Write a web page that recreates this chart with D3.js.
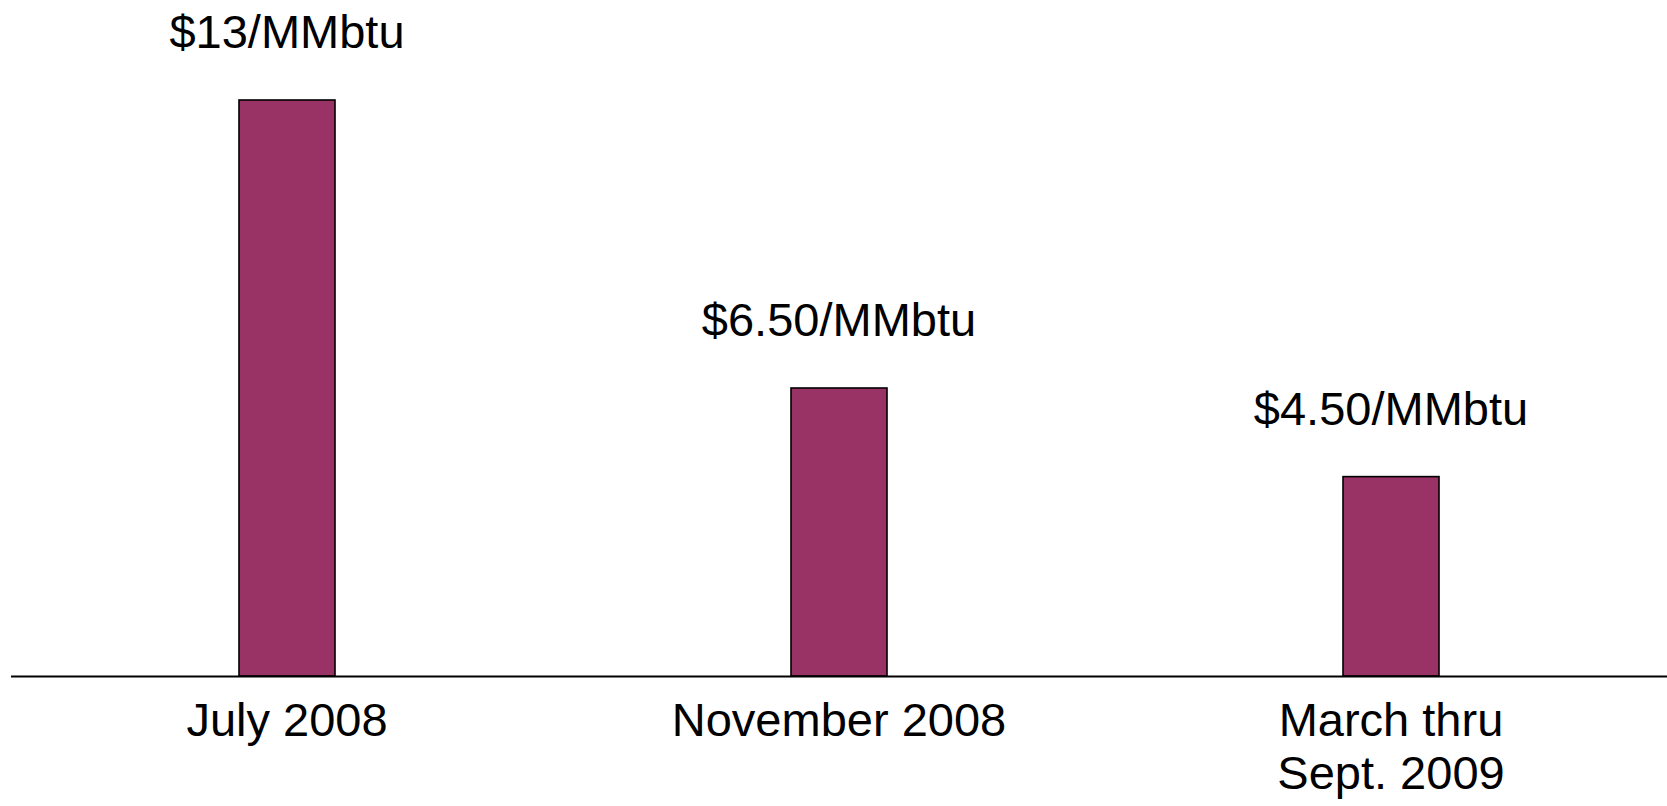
<!DOCTYPE html>
<html>
<head>
<meta charset="utf-8">
<script src="https://cdn.jsdelivr.net/npm/d3@7"></script>
<style>
  html, body { margin: 0; padding: 0; background: #ffffff; }
  svg { display: block; }
  text { font-family: "Liberation Sans", Arial, sans-serif; fill: #000; }
</style>
</head>
<body>
<svg id="chart" width="1667" height="806"></svg>
<script>
// Natural gas price, $/MMbtu
const categories = ["July 2008", "November 2008", "March thru\nSept. 2009"];
const prices = [13, 6.5, 4.5];
const priceLabels = ["$13/MMbtu", "$6.50/MMbtu", "$4.50/MMbtu"];

const width = 1667, height = 806;
const margin = { top: 100, right: 0, bottom: 130, left: 11 };
const baseY = height - margin.bottom;   // axis line
const barWidth = 96;
const fontSize = 47;

const svg = d3.select("#chart");

const x = d3.scalePoint()
  .domain(categories)
  .range([margin.left, width - margin.right])
  .padding(0.5);

const y = d3.scaleLinear()
  .domain([0, d3.max(prices)])
  .range([baseY, margin.top]);

const data = categories.map((c, i) => ({ cat: c, value: prices[i], label: priceLabels[i] }));

// bars
svg.selectAll("rect.bar")
  .data(data)
  .join("rect")
  .attr("class", "bar")
  .attr("x", d => x(d.cat) - barWidth / 2)
  .attr("y", d => y(d.value))
  .attr("width", barWidth)
  .attr("height", d => baseY - y(d.value))
  .attr("fill", "#993366")
  .attr("stroke", "#000")
  .attr("stroke-width", 1.6);

// baseline
svg.append("line")
  .attr("x1", margin.left)
  .attr("x2", width - margin.right)
  .attr("y1", baseY + 0.5)
  .attr("y2", baseY + 0.5)
  .attr("stroke", "#000")
  .attr("stroke-width", 2.2);

// price labels above bars
svg.selectAll("text.value")
  .data(data)
  .join("text")
  .attr("class", "value")
  .attr("x", d => x(d.cat))
  .attr("y", d => y(d.value) - 52)
  .attr("text-anchor", "middle")
  .style("font-size", fontSize + "px")
  .text(d => d.label);

// category labels below the axis
const catText = svg.selectAll("text.cat")
  .data(data)
  .join("text")
  .attr("class", "cat")
  .attr("text-anchor", "middle")
  .style("font-size", fontSize + "px");

catText.selectAll("tspan")
  .data(d => d.cat.split("\n").map(line => ({ line, cx: x(d.cat) })))
  .join("tspan")
  .attr("x", d => d.cx)
  .attr("y", (d, i) => baseY + 60 + i * 53)
  .text(d => d.line);
</script>
</body>
</html>
